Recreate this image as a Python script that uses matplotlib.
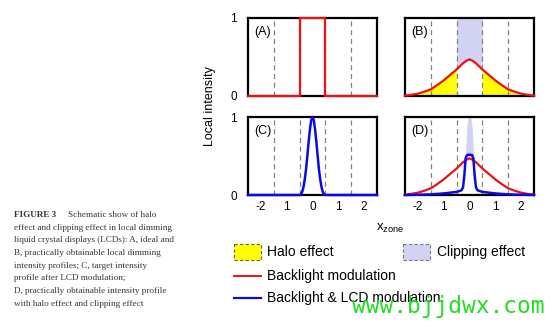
import numpy as np
import matplotlib.pyplot as plt
from matplotlib.patches import Rectangle
from matplotlib.lines import Line2D

plt.rcParams['font.family'] = ['Liberation Sans', 'DejaVu Sans']
plt.rcParams['mathtext.fontset'] = 'custom'
plt.rcParams['mathtext.rm'] = 'Liberation Sans'
plt.rcParams['mathtext.it'] = 'Liberation Sans:italic'

# zone boundaries and tick labels
zone_edges = [-1.5, -0.5, 0.5, 1.5]
x_ticks = [-2, -1, 0, 1, 2]
x_ticklabels = ['-2', '1', '0', '1', '2']

# (A) ideal local dimming profile
x_ideal = [-2.5, -0.5, -0.5, 0.5, 0.5, 2.5]
y_ideal = [0, 0, 1, 1, 0, 0]

# (B, D) practically obtainable backlight profile
x_back = [-2.5, -2.25, -2.0, -1.75, -1.5, -1.25, -1.0, -0.75, -0.5, -0.25, -0.125,
          0.0, 0.125, 0.25, 0.5, 0.75, 1.0, 1.25, 1.5, 1.75, 2.0, 2.25, 2.5]
y_back = [0.005, 0.015, 0.03, 0.055, 0.085, 0.14, 0.20, 0.27, 0.34, 0.42, 0.45,
          0.47, 0.45, 0.42, 0.34, 0.27, 0.20, 0.14, 0.085, 0.055, 0.03, 0.015, 0.005]

# narrow profiles: (C) target after LCD, (D) backlight & LCD, clipping top, halo
x_nar = [-2.5, -2.0, -1.5, -1.0, -0.75, -0.5, -0.45, -0.4, -0.35, -0.3, -0.25, -0.2,
         -0.15, -0.1, -0.05, 0.0, 0.05, 0.1, 0.15, 0.2, 0.25, 0.3, 0.35, 0.4, 0.45,
         0.5, 0.75, 1.0, 1.5, 2.0, 2.5]
y_target = [0, 0, 0, 0, 0, 0.0, 0.01, 0.04, 0.10, 0.20, 0.33, 0.50,
            0.68, 0.84, 0.96, 1.0, 0.96, 0.84, 0.68, 0.50, 0.33, 0.20, 0.10, 0.04, 0.01,
            0.0, 0, 0, 0, 0, 0]
y_lcd = [0.0, 0.003, 0.008, 0.02, 0.03, 0.04, 0.045, 0.05, 0.055, 0.065, 0.10, 0.25,
         0.47, 0.51, 0.515, 0.515, 0.515, 0.51, 0.47, 0.25, 0.10, 0.065, 0.055, 0.05, 0.045,
         0.04, 0.03, 0.02, 0.008, 0.003, 0.0]
y_clip_d = [0, 0, 0, 0, 0, 0.0, 0.0, 0.0, 0.0, 0.0, 0.0, 0.0,
            0.58, 0.88, 1.0, 1.0, 1.0, 0.88, 0.58, 0.0, 0.0, 0.0, 0.0, 0.0, 0.0,
            0.0, 0, 0, 0, 0, 0]
y_halo_d = [0, 0, 0, 0, 0, 0, 0, 0, 0.025, 0.03, 0.03, 0.025,
            0, 0, 0, 0, 0, 0, 0, 0.025, 0.03, 0.03, 0.025, 0, 0,
            0, 0, 0, 0, 0, 0]

RED = '#ee1111'
BLUE = '#0a0ae6'
YELLOW = '#ffff00'
LAVENDER = '#d2d3f2'

W, H = 554, 324
fig = plt.figure(figsize=(W / 100, H / 100), dpi=100)


def px_axes(left, top, right, bottom):
    return fig.add_axes([left / W, 1 - bottom / H, (right - left) / W, (bottom - top) / H])


def style(ax, label, show_y, show_x):
    ax.set_xlim(-2.5, 2.5)
    ax.set_ylim(0, 1)
    for e in zone_edges:
        ax.axvline(e, color='#808080', lw=0.9, ls=(0, (4, 3)), zorder=1)
    for s in ax.spines.values():
        s.set_linewidth(1.6)
        s.set_zorder(2)
    ax.set_yticks([0, 1])
    ax.set_xticks(x_ticks)
    ax.tick_params(length=0, labelsize=8.5, pad=4)
    if show_y:
        ax.set_yticklabels(['0', '1'])
        ax.tick_params(axis='y', pad=8)
    else:
        ax.set_yticklabels([])
    if show_x:
        ax.set_xticklabels(x_ticklabels)
    else:
        ax.set_xticklabels([])
    ax.text(0.05, 0.9, label, transform=ax.transAxes, fontsize=9, va='top', ha='left')


ax_a = px_axes(248, 18, 377, 96)
ax_b = px_axes(405, 18, 534, 96)
ax_c = px_axes(248, 117, 377, 195)
ax_d = px_axes(405, 117, 534, 195)

style(ax_a, '(A)', True, False)
style(ax_b, '(B)', False, False)
style(ax_c, '(C)', True, True)
style(ax_d, '(D)', False, True)

# (A)
ax_a.plot(x_ideal, y_ideal, color=RED, lw=1.6, clip_on=False, zorder=3)

# (B)
xb = np.array(x_back)
yb = np.array(y_back)
ax_b.fill_between(xb, yb, 1, where=np.abs(xb) <= 0.5, color=LAVENDER, lw=0, zorder=0.5)
ax_b.fill_between(xb, 0, yb, where=xb <= -0.5, color=YELLOW, lw=0, zorder=0.5)
ax_b.fill_between(xb, 0, yb, where=xb >= 0.5, color=YELLOW, lw=0, zorder=0.5)
ax_b.plot(xb, yb, color=RED, lw=1.6, clip_on=False, zorder=3)

# (C)
ax_c.plot(x_nar, y_target, color=BLUE, lw=1.8, clip_on=False, zorder=3)

# (D)
xn = np.array(x_nar)
ax_d.fill_between(xn, y_lcd, y_clip_d, where=np.array(y_clip_d) > np.array(y_lcd),
                  interpolate=True, color=LAVENDER, lw=0, zorder=0.5)
ax_d.fill_between(xn, 0, y_halo_d, color=YELLOW, lw=0, zorder=0.5)
ax_d.plot(xb, yb, color=RED, lw=1.6, clip_on=False, zorder=3)
ax_d.plot(xn, y_lcd, color=BLUE, lw=1.8, clip_on=False, zorder=4)

# axis titles
fig.text(210 / W, 1 - 106 / H, 'Local intensity', rotation=90, ha='center', va='center',
         fontsize=9)
fig.text(390 / W, 1 - 228 / H, r'x$_{\mathrm{zone}}$', ha='center', va='center', fontsize=9.5)

# overlay for legend, caption and watermark (pixel coordinates)
lay = fig.add_axes([0, 0, 1, 1], zorder=5)
lay.set_xlim(0, W)
lay.set_ylim(H, 0)
lay.axis('off')

lay.add_patch(Rectangle((234, 244), 27, 16, facecolor=YELLOW, edgecolor='#666633',
                        ls=(0, (3, 2)), lw=0.8))
lay.add_patch(Rectangle((403, 244), 27, 16, facecolor=LAVENDER, edgecolor='#777777',
                        ls=(0, (3, 2)), lw=0.8))
lay.add_line(Line2D([234, 261], [276, 276], color=RED, lw=1.4))
lay.add_line(Line2D([234, 261], [298, 298], color=BLUE, lw=1.6))
leg_fs = 10
lay.text(267, 252, 'Halo effect', fontsize=leg_fs, va='center', ha='left')
lay.text(437, 252, 'Clipping effect', fontsize=leg_fs, va='center', ha='left')
lay.text(267, 276, 'Backlight modulation', fontsize=leg_fs, va='center', ha='left')
lay.text(267, 298, 'Backlight & LCD modulation', fontsize=leg_fs, va='center', ha='left')

caption = [
    'effect and clipping effect in local dimming',
    'liquid crystal displays (LCDs): A, ideal and',
    'B, practically obtainable local dimming',
    'intensity profiles; C, target intensity',
    'profile after LCD modulation;',
    'D, practically obtainable intensity profile',
    'with halo effect and clipping effect',
]
cap_font = dict(family=['Liberation Serif', 'DejaVu Serif'], fontsize=6.6, color='#333333',
                va='center', ha='left')
lay.text(14, 215, 'FIGURE 3', fontweight='bold', **cap_font)
lay.text(68, 215, 'Schematic show of halo', **cap_font)
for i, line in enumerate(caption):
    lay.text(14, 215 + 12.7 * (i + 1), line, **cap_font)

lay.text(352, 307, 'www.bjjdwx.com', family='DejaVu Sans Mono', fontsize=16.5,
         color='#22dd22', va='center', ha='left', zorder=10)

fig.savefig('out.png', dpi=100)
